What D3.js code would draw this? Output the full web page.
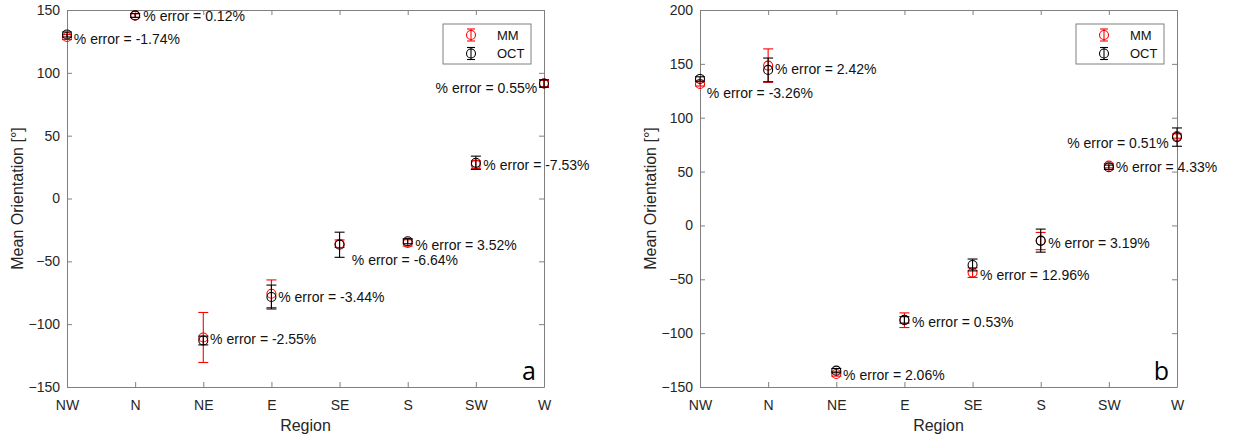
<!DOCTYPE html>
<html>
<head>
<meta charset="utf-8">
<script src="https://cdn.jsdelivr.net/npm/d3@7"></script>
<style>
  html, body { margin: 0; padding: 0; background: #fff; }
  svg { display: block; font-family: "Liberation Sans", Arial, sans-serif; }
</style>
</head>
<body>
<svg id="chart" width="1233" height="437"></svg>
<script>
// ---------- data ----------
const categories = ["NW", "N", "NE", "E", "SE", "S", "SW", "W"];
const seriesNames = ["MM", "OCT"];

// Panel a
const mmA      = [128.5, 145.5, -110.6, -75.8, -36.0, -35.3, 27.0, 91.5];
const mmErrA   = [2.0, 1.5, 19.9, 11.0, 3.0, 2.5, 3.0, 2.5];
const octA     = [130.5, 145.7, -113.0, -78.4, -36.8, -34.0, 28.4, 91.5];
const octErrA  = [2.0, 1.5, 3.5, 9.5, 10.0, 2.0, 5.3, 3.0];
const labelsA  = ["% error = -1.74%", "% error = 0.12%", "% error = -2.55%", "% error = -3.44%",
                  "% error = -6.64%", "% error = 3.52%", "% error = -7.53%", "% error = 0.55%"];
const labelXA  = [0.1, 0.12, 0.1, 0.1, 0.18, 0.11, 0.11, -0.1];
const labelYA  = [127.0, 145.5, -112.0, -78.5, -49.3, -37.0, 26.3, 87.8];

// Panel b
const mmB      = [131.4, 148.4, -137.9, -88.0, -43.8, -14.5, 55.5, 83.0];
const mmErrB   = [2.0, 15.5, 2.0, 6.8, 4.5, 8.0, 2.0, 2.0];
const octB     = [136.0, 144.4, -134.8, -87.7, -36.7, -14.1, 54.0, 82.0];
const octErrB  = [2.0, 11.0, 2.0, 3.0, 5.5, 10.7, 2.0, 8.5];
const labelsB  = ["% error = -3.26%", "% error = 2.42%", "% error = 2.06%", "% error = 0.53%",
                  "% error = 12.96%", "% error = 3.19%", "% error = 4.33%", "% error = 0.51%"];
const labelXB  = [0.1, 0.1, 0.1, 0.11, 0.11, 0.11, 0.1, -0.12];
const labelYB  = [123.3, 145.3, -138.8, -89.3, -46.0, -16.5, 54.6, 76.9];

const yTicksA = [-150, -100, -50, 0, 50, 100, 150];
const yTicksB = [-150, -100, -50, 0, 50, 100, 150, 200];

// ---------- drawing ----------
const svg = d3.select("#chart");
const colors = ["#ff0000", "#000000"];
const axisColor = "#808080";
const tickText = "#262626";

function drawPanel(p) {
  const g = svg.append("g");
  const x = d3.scaleLinear().domain([0, categories.length - 1]).range([p.left, p.right]);
  const y = d3.scaleLinear().domain(p.yDomain).range([p.bottom, p.top]);

  const styleAxis = sel => {
    sel.selectAll("path, line").attr("stroke", axisColor).attr("stroke-width", 1);
    sel.selectAll("text").attr("fill", tickText).style("font-size", "14px")
       .style("font-family", '"Liberation Sans", Arial, sans-serif');
  };

  g.append("g").attr("transform", `translate(0,${p.bottom})`)
    .call(d3.axisBottom(x).tickValues(d3.range(categories.length))
      .tickFormat(i => categories[i]).tickSizeInner(-5).tickSizeOuter(0).tickPadding(13))
    .call(styleAxis);
  g.append("g").attr("transform", `translate(0,${p.top})`)
    .call(d3.axisTop(x).tickValues(d3.range(categories.length))
      .tickFormat("").tickSizeInner(-5).tickSizeOuter(0))
    .call(styleAxis);
  g.append("g").attr("transform", `translate(${p.left},0)`)
    .call(d3.axisLeft(y).tickValues(p.yTicks).tickSizeInner(-5).tickSizeOuter(0).tickPadding(7))
    .call(styleAxis);
  g.append("g").attr("transform", `translate(${p.right},0)`)
    .call(d3.axisRight(y).tickValues(p.yTicks).tickFormat("").tickSizeInner(-5).tickSizeOuter(0))
    .call(styleAxis);

  // axis titles
  g.append("text").attr("x", (p.left + p.right) / 2).attr("y", 431)
    .attr("text-anchor", "middle").attr("fill", tickText).style("font-size", "16px").text("Region");
  g.append("text").attr("transform", `translate(${p.left - 44},${(p.top + p.bottom) / 2}) rotate(-90)`)
    .attr("text-anchor", "middle").attr("fill", tickText).style("font-size", "16px")
    .text("Mean Orientation [°]");

  // series with error bars
  const capW = 5, r = 4.5;
  p.series.forEach((s, si) => {
    const sg = g.append("g").attr("stroke", colors[si]).attr("fill", "none").attr("stroke-width", 1.1);
    s.vals.forEach((v, i) => {
      const cx = x(i), e = s.errs[i];
      sg.append("line").attr("x1", cx).attr("x2", cx).attr("y1", y(v - e)).attr("y2", y(v + e));
      sg.append("line").attr("x1", cx - capW).attr("x2", cx + capW).attr("y1", y(v - e)).attr("y2", y(v - e));
      sg.append("line").attr("x1", cx - capW).attr("x2", cx + capW).attr("y1", y(v + e)).attr("y2", y(v + e));
      sg.append("circle").attr("cx", cx).attr("cy", y(v)).attr("r", r);
    });
  });

  // labels
  p.labels.forEach((t, i) => {
    const dx = p.labelX[i];
    g.append("text").attr("x", x(i + dx)).attr("y", y(p.labelY[i]))
      .attr("text-anchor", dx < 0 ? "end" : "start")
      .attr("dominant-baseline", "central")
      .attr("fill", "#111").style("font-size", "14px").text(t);
  });

  // legend
  const lw = 88, lh = 40;
  const lx = p.right - 13 - lw, ly = p.top + 14;
  const lg = g.append("g");
  lg.append("rect").attr("x", lx).attr("y", ly).attr("width", lw).attr("height", lh)
    .attr("fill", "#fff").attr("stroke", axisColor).attr("stroke-width", 1);
  seriesNames.forEach((n, si) => {
    const cy = ly + 11 + si * 18.5, cx = lx + 28;
    const eg = lg.append("g").attr("stroke", colors[si]).attr("fill", "none").attr("stroke-width", 1.1);
    eg.append("line").attr("x1", cx).attr("x2", cx).attr("y1", cy - 6).attr("y2", cy + 6);
    eg.append("line").attr("x1", cx - 4).attr("x2", cx + 4).attr("y1", cy - 6).attr("y2", cy - 6);
    eg.append("line").attr("x1", cx - 4).attr("x2", cx + 4).attr("y1", cy + 6).attr("y2", cy + 6);
    eg.append("circle").attr("cx", cx).attr("cy", cy).attr("r", 4.5);
    lg.append("text").attr("x", lx + 54).attr("y", cy).attr("dominant-baseline", "central")
      .attr("fill", "#111").style("font-size", "13px").text(n);
  });

  // panel letter
  g.append("text").attr("x", p.right - 8).attr("y", p.bottom - 7)
    .attr("text-anchor", "end").attr("fill", "#000").style("font-size", "25px")
    .style("font-family", '"Open Sans", "DejaVu Sans", sans-serif').text(p.letter);
}

drawPanel({
  left: 67, right: 544, top: 10, bottom: 387,
  yDomain: [-150, 150], yTicks: yTicksA, letter: "a",
  series: [{ vals: mmA, errs: mmErrA }, { vals: octA, errs: octErrA }],
  labels: labelsA, labelX: labelXA, labelY: labelYA
});
drawPanel({
  left: 700, right: 1177, top: 10, bottom: 387,
  yDomain: [-150, 200], yTicks: yTicksB, letter: "b",
  series: [{ vals: mmB, errs: mmErrB }, { vals: octB, errs: octErrB }],
  labels: labelsB, labelX: labelXB, labelY: labelYB
});
</script>
</body>
</html>
